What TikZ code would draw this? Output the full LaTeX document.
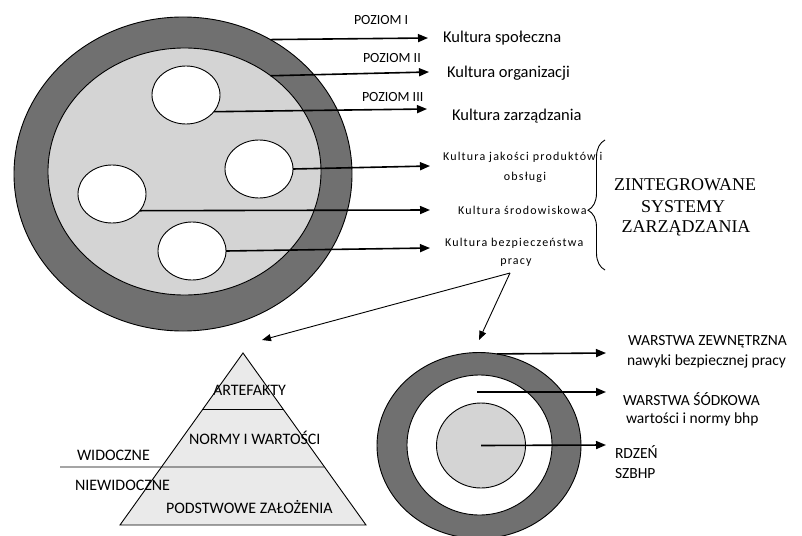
\documentclass[tikz,border=0pt]{standalone}
\usepackage{fontspec}
\setmainfont{Carlito}
\newfontfamily\zszfont{Liberation Serif}
\newfontfamily\spacedfont[LetterSpace=10]{Carlito}
\usetikzlibrary{shapes.geometric,arrows.meta,decorations.pathreplacing,calc}
\definecolor{ringdark}{RGB}{112,112,112}
\definecolor{lightg}{RGB}{212,212,212}
\definecolor{pyrfill}{RGB}{234,234,234}
\begin{document}
\begin{tikzpicture}[x=1pt,y=-1pt,
  ell/.style={ellipse, draw=black, line width=0.9pt, inner sep=0pt, outer sep=0pt},
  lvl/.style={line width=1.6pt, -{Triangle[length=10pt,width=8pt]}},
  thinarr/.style={line width=0.9pt, -{Triangle[length=9pt,width=7pt]}},
  txt/.style={inner sep=0pt, outer sep=0pt, anchor=base west, font=\fontsize{16}{19}\selectfont},
  ctxt/.style={txt, anchor=base},
  lvltxt/.style={txt, font=\fontsize{14}{17}\selectfont},
  kult/.style={txt, font=\fontsize{16.5}{19}\selectfont},
  small/.style={txt, font=\fontsize{12}{14}\spacedfont},
  zsz/.style={inner sep=0pt, anchor=base, font=\fontsize{18}{21}\zszfont},
  rtxt/.style={txt, font=\fontsize{15.5}{18}\selectfont}
]
\path[use as bounding box] (0,0) rectangle (802,535);

% ---- big ellipse ----
\node[ell, fill=ringdark, minimum width=338pt, minimum height=314pt] (outer) at (183,174) {};
\node[ell, fill=lightg, minimum width=273pt, minimum height=247pt] (inner) at (184.5,171.5) {};
\node[ell, fill=white, minimum width=68pt, minimum height=58pt] (s1) at (186,95) {};
\node[ell, fill=white, minimum width=68pt, minimum height=58pt] (s2) at (259,169) {};
\node[ell, fill=white, minimum width=68pt, minimum height=58pt] (s3) at (112,194) {};
\node[ell, fill=white, minimum width=68pt, minimum height=58pt] (s4) at (192,251) {};

% ---- labels ----
\node[lvltxt] (p1) at (354,25) {POZIOM I};
\node[lvltxt] (p2) at (363,63) {POZIOM II};
\node[lvltxt] (p3) at (362,101) {POZIOM III};
\node[kult] (k1) at (443,43) {Kultura społeczna};
\node[kult] (k2) at (447,77) {Kultura organizacji};
\node[kult] (k3) at (452,120) {Kultura zarządzania};
\node[small] (k4) at (443,160) {Kultura jakości produktów i};
\node[small, anchor=base] (k4b) at (525,180) {obsługi};
\node[small] (k5) at (458,214) {Kultura środowiskowa};
\node[small] (k6) at (445,246) {Kultura bezpieczeństwa};
\node[small, anchor=base] (k6b) at (516,264) {pracy};

\coordinate (t1) at (428,38);
\coordinate (t2) at (429,72);
\coordinate (t3) at (427,109);
\coordinate (t4) at (430,166);
\coordinate (t5) at (430,210);
\coordinate (t6) at (430,248);
\draw[lvl] (outer.57) -- (t1);
\draw[lvl] (inner.48) -- (t2);
\draw[lvl] (s1.-31) -- (t3);
\draw[lvl] (s2.east) -- (t4);
\draw[lvl] (s3.-31) -- (t5);
\draw[lvl] (s4.east) -- (t6);

% ---- brace + ZSZ ----
\draw[line width=0.9pt, decorate, decoration={brace, amplitude=17pt, aspect=0.46}] (605,270) -- (605,140);
\node[zsz] (z1) at (685,190) {ZINTEGROWANE};
\node[zsz] (z2) at (683,212) {SYSTEMY};
\node[zsz] (z3) at (686,232) {ZARZĄDZANIA};

% ---- split arrows ----
\coordinate (split) at (510,273);
\coordinate (pyr) at (262,340);
\coordinate (circ) at (479,340);
\draw[thinarr] (split) -- (pyr);
\draw[thinarr] (split) -- (circ);

% ---- pyramid ----
\coordinate (apex) at (243,353);
\coordinate (bl) at (120,525);
\coordinate (br) at (366,525);
\draw[line width=0.9pt, fill=pyrfill] (apex) -- (bl) -- (br) -- cycle;
\coordinate (l1) at ($(apex)!0.3256!(bl)$);
\coordinate (r1) at ($(apex)!0.3256!(br)$);
\coordinate (r2) at ($(apex)!0.6628!(br)$);
\coordinate (wl) at (60,467);
\draw[line width=0.9pt] (l1) -- (r1);
\draw[line width=0.9pt] (wl) -- (r2);
\node[txt] (art) at (213,395) {ARTEFAKTY};
\node[txt] (norm) at (189,444) {NORMY I WARTOŚCI};
\node[txt] (wid) at (77,460) {WIDOCZNE};
\node[txt] (niew) at (75,490) {NIEWIDOCZNE};
\node[txt] (pods) at (166,513) {PODSTWOWE ZAŁOŻENIA};

% ---- right circle ----
\begin{scope}
\clip (0,0) rectangle (802,535);
\node[ell, fill=ringdark, minimum width=204pt, minimum height=186pt] (c1) at (479,445.5) {};
\node[ell, fill=white, minimum width=145pt, minimum height=140pt] (c2) at (479.5,445) {};
\node[ell, fill=lightg, minimum width=89pt, minimum height=85pt] (c3) at (481,445.5) {};
\end{scope}
\coordinate (a1) at (606,353);
\coordinate (m) at (477,392);
\coordinate (a2) at (606,392);
\coordinate (a3) at (606,445);
\draw[lvl] (c1.79) -- (a1);
\draw[lvl] (m) -- (a2);
\draw[lvl] (c3.center) -- (a3);
\node[rtxt] (w1) at (628,345) {WARSTWA ZEWNĘTRZNA};
\node[rtxt] (w1b) at (627,365) {nawyki bezpiecznej pracy};
\node[rtxt] (w2) at (623,405) {WARSTWA ŚÓDKOWA};
\node[rtxt] (w2b) at (626,423) {wartości i normy bhp};
\node[rtxt] (w3) at (615,458) {RDZEŃ};
\node[rtxt] (w3b) at (615,478) {SZBHP};
\end{tikzpicture}
\end{document}
